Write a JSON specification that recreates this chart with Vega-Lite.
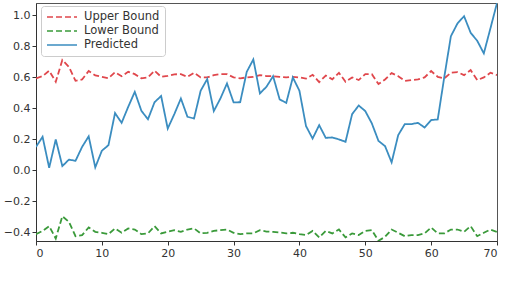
{
  "$schema": "https://vega.github.io/schema/vega-lite/v6.json",
  "width": 461,
  "height": 238,
  "autosize": "none",
  "padding": {"left": 36, "top": 3, "right": 8, "bottom": 47},
  "config": {
    "font": "DejaVu Sans",
    "view": {"stroke": "#555", "strokeWidth": 1},
    "axis": {"grid": false, "domainColor": "#333", "tickColor": "#333", "tickSize": 4, "labelColor": "#333", "labelFontSize": 11, "labelPadding": 2, "title": null}
  },
  "data": {"values": [
    {"x":0,"upper":0.594,"lower":-0.411,"predicted":0.152},
    {"x":1,"upper":0.608,"lower":-0.39,"predicted":0.217},
    {"x":2,"upper":0.643,"lower":-0.359,"predicted":0.017},
    {"x":3,"upper":0.572,"lower":-0.439,"predicted":0.2},
    {"x":4,"upper":0.712,"lower":-0.295,"predicted":0.028},
    {"x":5,"upper":0.668,"lower":-0.332,"predicted":0.07},
    {"x":6,"upper":0.578,"lower":-0.424,"predicted":0.062},
    {"x":7,"upper":0.587,"lower":-0.417,"predicted":0.152},
    {"x":8,"upper":0.641,"lower":-0.368,"predicted":0.22},
    {"x":9,"upper":0.613,"lower":-0.396,"predicted":0.02},
    {"x":10,"upper":0.604,"lower":-0.402,"predicted":0.127},
    {"x":11,"upper":0.595,"lower":-0.411,"predicted":0.163},
    {"x":12,"upper":0.634,"lower":-0.374,"predicted":0.37},
    {"x":13,"upper":0.608,"lower":-0.402,"predicted":0.307},
    {"x":14,"upper":0.636,"lower":-0.374,"predicted":0.41},
    {"x":15,"upper":0.621,"lower":-0.381,"predicted":0.507},
    {"x":16,"upper":0.594,"lower":-0.411,"predicted":0.385},
    {"x":17,"upper":0.6,"lower":-0.406,"predicted":0.33},
    {"x":18,"upper":0.643,"lower":-0.359,"predicted":0.44},
    {"x":19,"upper":0.604,"lower":-0.406,"predicted":0.48},
    {"x":20,"upper":0.61,"lower":-0.396,"predicted":0.27},
    {"x":21,"upper":0.62,"lower":-0.385,"predicted":0.363},
    {"x":22,"upper":0.621,"lower":-0.396,"predicted":0.464},
    {"x":23,"upper":0.604,"lower":-0.381,"predicted":0.346},
    {"x":24,"upper":0.63,"lower":-0.374,"predicted":0.335},
    {"x":25,"upper":0.6,"lower":-0.406,"predicted":0.514},
    {"x":26,"upper":0.6,"lower":-0.402,"predicted":0.589},
    {"x":27,"upper":0.615,"lower":-0.39,"predicted":0.383},
    {"x":28,"upper":0.621,"lower":-0.385,"predicted":0.464},
    {"x":29,"upper":0.621,"lower":-0.381,"predicted":0.561},
    {"x":30,"upper":0.6,"lower":-0.402,"predicted":0.439},
    {"x":31,"upper":0.594,"lower":-0.411,"predicted":0.44},
    {"x":32,"upper":0.6,"lower":-0.406,"predicted":0.636},
    {"x":33,"upper":0.604,"lower":-0.406,"predicted":0.716},
    {"x":34,"upper":0.615,"lower":-0.385,"predicted":0.497},
    {"x":35,"upper":0.608,"lower":-0.394,"predicted":0.54},
    {"x":36,"upper":0.608,"lower":-0.396,"predicted":0.608},
    {"x":37,"upper":0.604,"lower":-0.4,"predicted":0.458},
    {"x":38,"upper":0.6,"lower":-0.406,"predicted":0.436},
    {"x":39,"upper":0.604,"lower":-0.402,"predicted":0.6},
    {"x":40,"upper":0.6,"lower":-0.411,"predicted":0.514},
    {"x":41,"upper":0.592,"lower":-0.417,"predicted":0.286},
    {"x":42,"upper":0.617,"lower":-0.39,"predicted":0.206},
    {"x":43,"upper":0.57,"lower":-0.432,"predicted":0.292},
    {"x":44,"upper":0.612,"lower":-0.39,"predicted":0.21},
    {"x":45,"upper":0.588,"lower":-0.406,"predicted":0.213},
    {"x":46,"upper":0.63,"lower":-0.381,"predicted":0.2},
    {"x":47,"upper":0.572,"lower":-0.432,"predicted":0.185},
    {"x":48,"upper":0.6,"lower":-0.406,"predicted":0.363},
    {"x":49,"upper":0.583,"lower":-0.417,"predicted":0.419},
    {"x":50,"upper":0.621,"lower":-0.39,"predicted":0.383},
    {"x":51,"upper":0.621,"lower":-0.385,"predicted":0.303},
    {"x":52,"upper":0.557,"lower":-0.454,"predicted":0.191},
    {"x":53,"upper":0.587,"lower":-0.428,"predicted":0.157},
    {"x":54,"upper":0.628,"lower":-0.381,"predicted":0.052},
    {"x":55,"upper":0.608,"lower":-0.402,"predicted":0.228},
    {"x":56,"upper":0.578,"lower":-0.424,"predicted":0.299},
    {"x":57,"upper":0.583,"lower":-0.417,"predicted":0.299},
    {"x":58,"upper":0.587,"lower":-0.417,"predicted":0.307},
    {"x":59,"upper":0.6,"lower":-0.406,"predicted":0.277},
    {"x":60,"upper":0.641,"lower":-0.368,"predicted":0.325},
    {"x":61,"upper":0.604,"lower":-0.406,"predicted":0.329},
    {"x":62,"upper":0.594,"lower":-0.406,"predicted":0.604},
    {"x":63,"upper":0.63,"lower":-0.381,"predicted":0.866},
    {"x":64,"upper":0.634,"lower":-0.381,"predicted":0.948},
    {"x":65,"upper":0.615,"lower":-0.396,"predicted":0.995},
    {"x":66,"upper":0.647,"lower":-0.359,"predicted":0.888},
    {"x":67,"upper":0.583,"lower":-0.424,"predicted":0.836},
    {"x":68,"upper":0.6,"lower":-0.402,"predicted":0.755},
    {"x":69,"upper":0.63,"lower":-0.381,"predicted":0.916},
    {"x":70,"upper":0.615,"lower":-0.396,"predicted":1.08}
  ]},
  "transform": [{"fold": ["upper", "lower", "predicted"], "as": ["series", "value"]}],
  "mark": {"type": "line", "clip": true},
  "encoding": {
    "x": {"field": "x", "type": "quantitative", "scale": {"domain": [0, 70], "nice": false}, "axis": {"values": [0, 10, 20, 30, 40, 50, 60, 70]}},
    "y": {"field": "value", "type": "quantitative", "scale": {"domain": [-0.455, 1.08], "nice": false, "zero": false}, "axis": {"values": [-0.4, -0.2, 0, 0.2, 0.4, 0.6, 0.8, 1.0], "format": ".1f"}},
    "color": {
      "field": "series", "type": "nominal",
      "scale": {"domain": ["upper", "lower", "predicted"], "range": ["#e0474c", "#3a9a3a", "#3b8dc0"]},
      "legend": {"title": null, "orient": "none", "legendX": 5, "legendY": 3, "symbolType": "M-1,0H5", "symbolSize": 100, "symbolStrokeWidth": 1.6, "labelFontSize": 11.5, "labelColor": "#333", "labelOffset": 26, "rowPadding": 2, "padding": 5, "fillColor": "white", "strokeColor": "#ccc", "cornerRadius": 3, "labelExpr": "datum.label == 'upper' ? 'Upper Bound' : datum.label == 'lower' ? 'Lower Bound' : 'Predicted'"}
    },
    "strokeDash": {
      "field": "series", "type": "nominal",
      "scale": {"domain": ["upper", "lower", "predicted"], "range": [[6, 3], [6, 3], [1, 0]]},
      "legend": {"title": null, "orient": "none", "legendX": 5, "legendY": 3, "symbolType": "M-1,0H5", "symbolSize": 100, "symbolStrokeWidth": 1.6, "labelFontSize": 11.5, "labelColor": "#333", "labelOffset": 26, "rowPadding": 2, "padding": 5, "fillColor": "white", "strokeColor": "#ccc", "cornerRadius": 3, "labelExpr": "datum.label == 'upper' ? 'Upper Bound' : datum.label == 'lower' ? 'Lower Bound' : 'Predicted'"}
    },
    "strokeWidth": {"value": 1.8}
  }
}
